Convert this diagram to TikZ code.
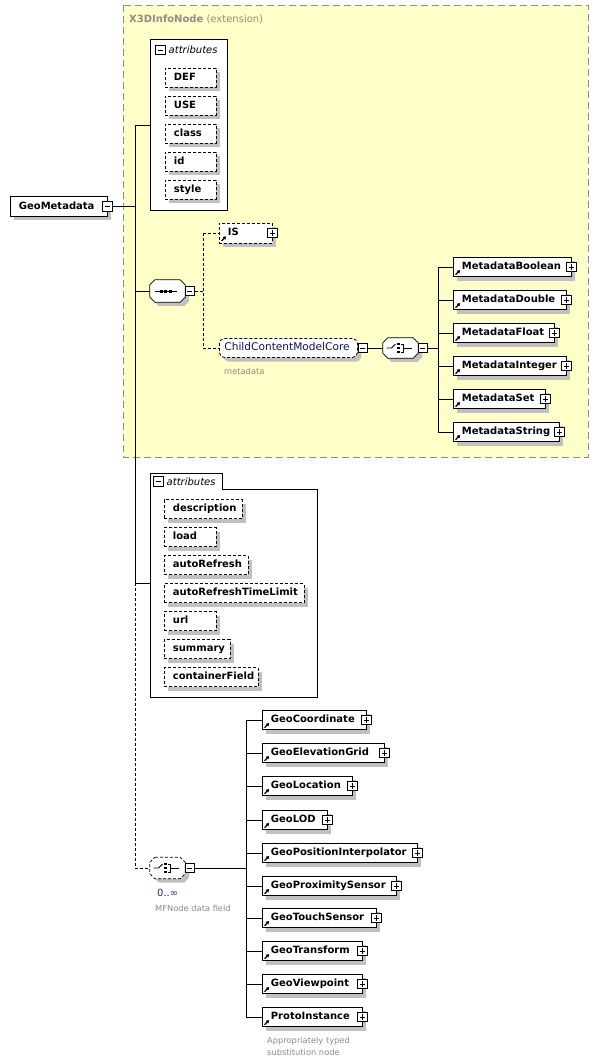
\documentclass[tikz,border=0pt]{standalone}
\usepackage{fontspec}
\setmainfont{DejaVu Sans}
\usetikzlibrary{shadows,arrows.meta}
\definecolor{extfill}{HTML}{FFFFC8}
\definecolor{extline}{HTML}{8C8C8C}
\definecolor{shgray}{HTML}{C0C0C0}
\definecolor{lblgray}{HTML}{8A8A8A}
\definecolor{navy}{HTML}{10106A}
\definecolor{navytwo}{HTML}{1A2A80}
\tikzset{
  shad/.style={drop shadow={shadow xshift=4pt,shadow yshift=-4pt,fill=shgray,draw=none,opacity=1}},
  mydash/.style={dash pattern=on 3pt off 2pt},
  elembox/.style={draw=black,line width=0.8pt,fill=white,shad,font=\fontsize{10}{11}\selectfont\bfseries,inner xsep=8.5pt,inner ysep=0pt,minimum height=19.5pt,align=left,anchor=west,text height=7.6pt,text depth=2pt},
  attrbox/.style={elembox,mydash,minimum height=19pt},
  grpbox/.style={draw=black,line width=0.8pt,mydash,fill=white,shad,rounded corners=5pt,font=\fontsize{10.6}{12}\selectfont,text=navy,inner xsep=5pt,inner ysep=0pt,minimum height=19pt,align=left,anchor=west,text height=8pt,text depth=2.3pt},
  btnbase/.style={draw=black,fill=white,solid,minimum size=9.5pt,inner sep=0pt,line width=0.7pt},
  btnm/.style={btnbase,path picture={\draw[line width=0.7pt] ([xshift=-2.6pt]path picture bounding box.center)--([xshift=2.6pt]path picture bounding box.center);}},
  btnp/.style={btnbase,path picture={\draw[line width=0.7pt] ([xshift=-2.6pt]path picture bounding box.center)--([xshift=2.6pt]path picture bounding box.center) ([yshift=-2.6pt]path picture bounding box.center)--([yshift=2.6pt]path picture bounding box.center);}},
  compo/.style={minimum width=35pt,minimum height=21pt,inner sep=0pt},
  oct/.style={insert path={([xshift=5pt]#1.north west)--([xshift=-5pt]#1.north east)--([yshift=-5pt]#1.north east)--([yshift=5pt]#1.south east)--([xshift=-5pt]#1.south east)--([xshift=5pt]#1.south west)--([yshift=5pt]#1.south west)--([yshift=-5pt]#1.north west)--cycle}},
  conn/.style={draw=black,line width=0.8pt},
  opt/.style={conn,mydash},
  small/.style={font=\fontsize{8.3}{9}\selectfont,text=lblgray,anchor=west,inner sep=0pt},
  refarrow/.style={line width=1.2pt,solid,-{Triangle[length=3pt,width=3.6pt]}},
}
\newcommand{\refmark}[1]{\draw[refarrow] ([xshift=2.5pt,yshift=2.5pt]#1.south west) -- ++(4.6pt,4.6pt);}
\begin{document}
\begin{tikzpicture}[x=1pt,y=-1pt]
\useasboundingbox[fill=white] (0,0) rectangle (599,1063);

% extension frame
\draw[extline,line width=0.9pt,dash pattern=on 7pt off 4pt,fill=extfill] (123,5) rectangle (588,457);
\node[anchor=west,inner sep=0pt,text=extline,font=\fontsize{10}{12}\selectfont] (exttitle) at (129,19) {\textbf{X3DInfoNode} (extension)};

% main element
\node[elembox,text width=80pt] (gm) at (10,206.5) {\mbox{GeoMetadata}};
\node[btnm] (gm-b) at ([xshift=-0.5pt]gm.east) {};

% bus coordinates
\coordinate (b1) at (135,125);
\coordinate (b2) at (135,583);
\coordinate (b3) at (135,868);

% attributes box 1
\node[draw=black,line width=0.8pt,fill=white,minimum width=77pt,minimum height=171pt,inner sep=0pt,anchor=north west] (att1) at (150,39) {};
\node[btnm] (att1-b) at (160.5,50) {};
\node[anchor=west,inner sep=0pt,font=\fontsize{10}{12}\selectfont\itshape] (att1-t) at (168.5,50) {attributes};
\node[attrbox,text width=34pt] (a-def) at (165,77.5) {\mbox{DEF}};
\node[attrbox,text width=34pt] (a-use) at (165,105.5) {\mbox{USE}};
\node[attrbox,text width=34pt] (a-class) at (165,133.5) {\mbox{class}};
\node[attrbox,text width=34pt] (a-id) at (165,161.5) {\mbox{id}};
\node[attrbox,text width=34pt] (a-style) at (165,189.5) {\mbox{style}};

% sequence
\node[compo,minimum height=22pt] (seq) at (167.5,291) {};
\fill[shgray,transform canvas={xshift=4pt,yshift=-4pt},oct=seq];
\draw[conn,fill=white,oct=seq];
\begin{scope}[shift={(seq.center)}]
  \draw[line width=0.8pt] (-13,0) -- (9,0);
  \foreach \dx in {-6.5,-2,2.5} \fill (\dx-1.5,-1.5) rectangle (\dx+1.5,1.5);
\end{scope}
\node[btnm] (seq-b) at ([xshift=4.5pt]seq.east) {};

% IS
\node[attrbox,minimum height=20pt,text width=36pt] (is) at (219,233) {\mbox{IS}};
\node[btnp] (is-b) at ([xshift=-0.5pt]is.east) {};
\refmark{is}

% ChildContentModelCore
\node[grpbox,text width=128pt] (ccmc) at (219,348) {\mbox{ChildContentModelCore}};
\node[btnm] (ccmc-b) at ([xshift=5pt]ccmc.east) {};
\node[small] (ccmc-l) at (224,371) {metadata};

% choice 1
\node[compo,minimum height=20pt] (ch1) at (400.5,348) {};
\fill[shgray,transform canvas={xshift=4pt,yshift=-4pt},oct=ch1];
\draw[conn,fill=white,oct=ch1];
\begin{scope}[shift={(ch1.center)}]
  \draw[line width=0.9pt] (-14,0) -- (-9,0) -- (-5,-4);
  \foreach \dy in {-4,0,4} \fill (-3.4,\dy-1.4) rectangle (-0.6,\dy+1.4);
  \draw[line width=0.9pt] (0.5,-4) -- (2.5,-4) -- (2.5,4) -- (0.5,4) (2.5,0) -- (11,0);
\end{scope}
\node[btnm] (ch1-b) at ([xshift=4.5pt]ch1.east) {};
\coordinate (cb) at (438,348);

% metadata children
\node[elembox,text width=101pt] (mb1) at (453,267) {\mbox{MetadataBoolean}};
\node[elembox,text width=96pt] (mb2) at (453,300) {\mbox{MetadataDouble}};
\node[elembox,text width=84pt] (mb3) at (453,333) {\mbox{MetadataFloat}};
\node[elembox,text width=96pt] (mb4) at (453,366) {\mbox{MetadataInteger}};
\node[elembox,text width=75pt] (mb5) at (453,399) {\mbox{MetadataSet}};
\node[elembox,text width=89pt] (mb6) at (453,432) {\mbox{MetadataString}};
\foreach \n in {mb1,mb2,mb3,mb4,mb5,mb6} {
  \node[btnp] (\n-b) at ([xshift=-0.5pt]\n.east) {};
  \refmark{\n}
  \draw[conn] (\n.west -| cb) -- (\n.west);
}
\draw[conn] (mb1.west -| cb) -- (mb6.west -| cb);
\draw[conn] (ch1-b.east) -- (cb);

% attributes box 2
\node[inner sep=0pt,minimum width=167pt,minimum height=208pt,anchor=north west] (att2) at (150,489) {};
\draw[conn,fill=white] (150,473) -- (222,473) -- (222,489) -- (317,489) -- (317,697) -- (150,697) -- cycle;
\node[btnm] (att2-b) at (158.5,481.5) {};
\node[anchor=west,inner sep=0pt,font=\fontsize{10}{12}\selectfont\itshape] (att2-t) at (166.5,481.5) {attributes};
\node[attrbox,text width=61pt] (a-desc) at (164,509) {\mbox{description}};
\node[attrbox,text width=35pt] (a-load) at (164,537) {\mbox{load}};
\node[attrbox,text width=67pt] (a-ar) at (164,565) {\mbox{autoRefresh}};
\node[attrbox,text width=123pt] (a-artl) at (164,593) {\mbox{autoRefreshTimeLimit}};
\node[attrbox,text width=35pt] (a-url) at (164,621) {\mbox{url}};
\node[attrbox,text width=49pt] (a-sum) at (164,649) {\mbox{summary}};
\node[attrbox,text width=77pt] (a-cf) at (164,677) {\mbox{containerField}};

% MFNode choice
\node[compo,minimum height=21pt] (mf) at (167.5,868) {};
\fill[shgray,transform canvas={xshift=4pt,yshift=-4pt},oct=mf];
\draw[opt,fill=white,oct=mf];
\begin{scope}[shift={(mf.center)}]
  \draw[line width=0.9pt] (-14,0) -- (-9,0) -- (-5,-4);
  \foreach \dy in {-4,0,4} \fill (-3.4,\dy-1.4) rectangle (-0.6,\dy+1.4);
  \draw[line width=0.9pt] (0.5,-4) -- (2.5,-4) -- (2.5,4) -- (0.5,4) (2.5,0) -- (11,0);
\end{scope}
\node[btnm] (mf-b) at ([xshift=4.5pt]mf.east) {};
\node[anchor=west,inner sep=0pt,text=navytwo,font=\fontsize{10}{12}\selectfont] (mf-occ) at (157,893) {0..∞};
\node[small] (mf-l) at (155,908) {MFNode data field};
\coordinate (gb) at (246,868);

% geo children
\node[elembox,text width=87pt] (g1) at (262,720) {\mbox{GeoCoordinate}};
\node[elembox,text width=105pt] (g2) at (262,753) {\mbox{GeoElevationGrid}};
\node[elembox,text width=73pt] (g3) at (262,786) {\mbox{GeoLocation}};
\node[elembox,text width=48pt] (g4) at (262,820) {\mbox{GeoLOD}};
\node[elembox,text width=138pt] (g5) at (262,853) {\mbox{GeoPositionInterpolator}};
\node[elembox,text width=117pt] (g6) at (262,886) {\mbox{GeoProximitySensor}};
\node[elembox,text width=97pt] (g7) at (262,918) {\mbox{GeoTouchSensor}};
\node[elembox,text width=83pt] (g8) at (262,951) {\mbox{GeoTransform}};
\node[elembox,text width=83pt] (g9) at (262,984) {\mbox{GeoViewpoint}};
\node[elembox,text width=83pt] (g10) at (262,1017) {\mbox{ProtoInstance}};
\foreach \n in {g1,g2,g3,g4,g5,g6,g7,g8,g9,g10} {
  \node[btnp] (\n-b) at ([xshift=-0.5pt]\n.east) {};
  \refmark{\n}
  \draw[conn] (\n.west -| gb) -- (\n.west);
}
\draw[conn] (g1.west -| gb) -- (g10.west -| gb);
\draw[conn] (mf-b.east) -- (gb);
\node[small,align=left,font=\fontsize{8.3}{12}\selectfont] (g10-l) at (267,1046) {Appropriately typed\\substitution node};

% main connectors
\draw[conn] (b1) -- (b2);
\draw[opt] (b2) -- (b3);
\draw[conn] (gm-b.east) -- (gm-b.east -| b1);
\draw[conn] (b1) -- (b1 -| att1.west);
\draw[conn] (seq.west -| b1) -- (seq.west);
\draw[conn] (b2) -- (b2 -| att2.west);
\draw[opt] (b3) -- (mf.west);

% sequence branches
\coordinate (sj) at (203,291);
\draw[opt] (seq-b.east) -- (sj);
\draw[opt] (is.west -| sj) -- (ccmc.west -| sj);
\draw[opt] (is.west -| sj) -- (is.west);
\draw[opt] (ccmc.west -| sj) -- (ccmc.west);
\draw[conn] (ccmc-b.east) -- (ch1.west);
\end{tikzpicture}
\end{document}
